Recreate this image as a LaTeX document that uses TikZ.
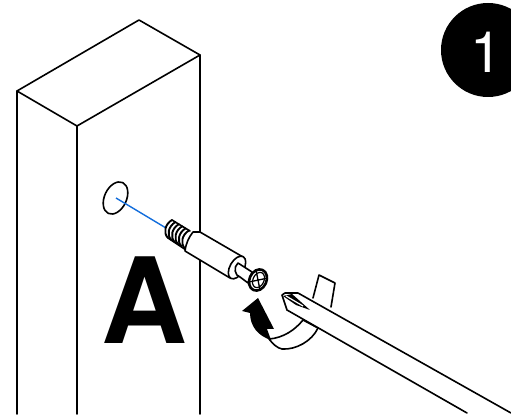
\documentclass[tikz,border=0pt]{standalone}
\usepackage{fontspec}
\setmainfont{TeX Gyre Heros}
\usetikzlibrary{positioning,calc}
\definecolor{axisblue}{RGB}{20,110,220}
\tikzset{
  edgeline/.style={line width=1.6pt,line join=round,line cap=round},
  thinline/.style={line width=1.2pt,line join=round},
}
\begin{document}
\begin{tikzpicture}[x=1pt,y=-1pt]
\useasboundingbox (0,0) rectangle (511,419);

% step badge
\fill (488,50) circle [radius=47];
\node[inner sep=0pt,text=white,font=\fontsize{57}{57}\selectfont] (stepnum) at (486,52) {1};

% beam
\draw[edgeline] (17,414) -- (17,91) -- (139,20) -- (200,55) -- (200,414);
\draw[edgeline] (17,91) -- (77,126) -- (200,55);
\draw[edgeline] (77,126) -- (77,414);
\node[inner sep=0pt,font=\bfseries\fontsize{119}{119}\selectfont] (partA) at (144.5,300) {A};

% hole and axis
\draw[edgeline] (115.5,198) ellipse [x radius=11,y radius=17,rotate=-25];
\draw[axisblue,line width=1.4pt] (116,198) -- (166,228);

% thread
\fill[white] (173,220) -- (193,232) -- (185,250) -- (167,238) -- (164,230) -- cycle;
\foreach \t in {0,1,2,3,4,5}{
  \draw[line width=1.9pt,line cap=round] ({172+\t*3.4},{220+\t*2.1}) .. controls ({165+\t*3.4},{224+\t*2.1}) and ({163+\t*3.4},{233+\t*2.1}) .. ({168+\t*3.4},{238+\t*2.1});
}
\draw[edgeline] (172,220) -- (190,231);
\draw[edgeline] (168,238) -- (186,250);

% barrel
\draw[edgeline,fill=white] (193,232) -- (200,232) -- (243,257) -- (230,278) -- (185,251)
  .. controls (186,243) and (189,237) .. (193,232);
\draw[edgeline,fill=white] (237,267.5) ellipse [x radius=7,y radius=12.5,rotate=-30];

% neck and head
\draw[edgeline,fill=white] (238,263) -- (252,272) -- (248,283) -- (240,277)
  .. controls (235,276) and (233,267) .. (238,263);
\draw[line width=2.6pt,fill=white] (258,280) ellipse [x radius=8.5,y radius=11,rotate=-25];
\draw[line width=1.2pt] (258.5,280) ellipse [x radius=5.5,y radius=8,rotate=-25];
\draw[line width=1.3pt] (249,282) -- (268,278) (256,270) -- (260,290);

% twist arrow
\draw[edgeline,fill=white] (269,339) .. controls (283,338) and (295,330) .. (303,320)
  -- (318,328) .. controls (312,341) and (296,350) .. (282,349)
  .. controls (277,348) and (273,344) .. (269,339);
\fill (242,311) -- (258,298) -- (274,329) -- (267,329) -- (271,340)
  .. controls (258,336) and (250,326) .. (250,313) -- cycle;

% ribbon behind the shaft
\draw[edgeline] (313,298) -- (319,275) -- (335,283) -- (331,307);

% screwdriver
\fill[white] (298,293) -- (511,413) -- (467,413) -- (287,310) -- cycle;
\draw[edgeline] (511,413) -- (298,293) -- (285,293) -- (282,295) -- (287,310) -- (467,413);
\fill (283,296) -- (292,294) -- (310,310) -- (296,305) -- cycle;
\draw[thinline,white] (286,296) -- (303,306);
\end{tikzpicture}
\end{document}
